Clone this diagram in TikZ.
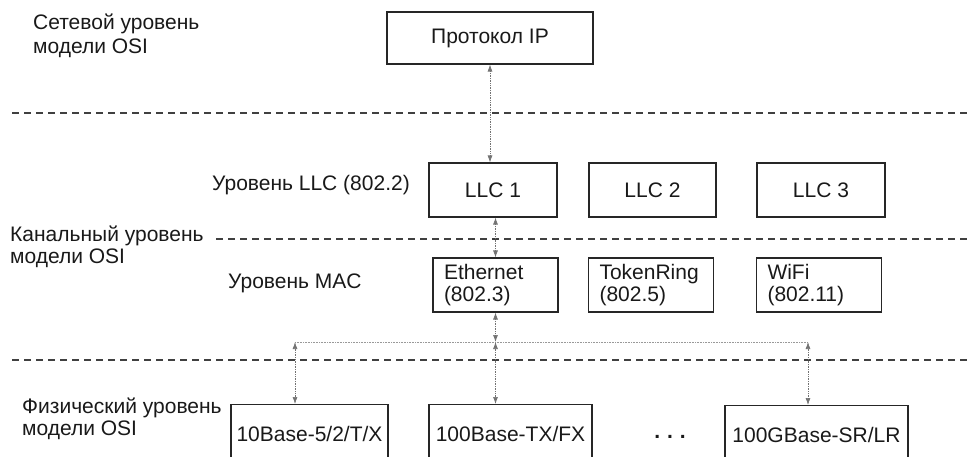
\documentclass[tikz,border=0pt]{standalone}
\usepackage{fontspec}
\setmainfont{Liberation Sans}
\usetikzlibrary{arrows.meta}
\begin{document}
\begin{tikzpicture}[x=1pt,y=-1pt,
  box/.style={draw=black!85, line width=1.1pt, inner sep=0pt, text=black!90, font=\fontsize{21}{22}\selectfont},
  mac/.style={box, minimum height=54pt, text width=103pt, inner xsep=11pt, align=left},
  lbl/.style={anchor=base west, inner sep=0pt, font=\fontsize{21}{23}\selectfont, text=black!90},
  sep/.style={draw=black!75, line width=1.2pt, dash pattern=on 7pt off 5pt},
  link/.style={draw=black!55, line width=0.7pt, densely dotted, {Latex[length=7pt,width=5pt]}-{Latex[length=7pt,width=5pt]}},
  bus/.style={draw=black!40, line width=0.6pt, densely dotted}]
\useasboundingbox (0,0) rectangle (969,456);
\clip (0,0) rectangle (969,456);
% level separators
\draw[sep] (12,113) -- (969,113);
\draw[sep] (216,239) -- (969,239);
\draw[sep] (12,360) -- (969,360);
% labels
\node[lbl] (netA) at (33,29) {Сетевой уровень};
\node[lbl] (netB) at (33,53) {модели OSI};
\node[lbl] (llcl) at (212,190) {Уровень LLC (802.2)};
\node[lbl] (dlA) at (10,241) {Канальный уровень};
\node[lbl] (dlB) at (10,263) {модели OSI};
\node[lbl] (macl) at (228,288) {Уровень MAC};
\node[lbl] (phA) at (22,413) {Физический уровень};
\node[lbl] (phB) at (22,435) {модели OSI};
% boxes
\node[box, minimum width=206pt, minimum height=52pt] (ip) at (490,38) {Протокол IP};
\node[box, minimum width=128pt, minimum height=54pt] (llc1) at (493,190) {LLC 1};
\node[box, minimum width=127pt, minimum height=54pt] (llc2) at (652.5,190) {LLC 2};
\node[box, minimum width=128pt, minimum height=54pt] (llc3) at (821,190) {LLC 3};
\node[mac] (eth) at (495.5,285) {Ethernet\\(802.3)};
\node[mac] (tr) at (651,285) {TokenRing\\(802.5)};
\node[mac] (wifi) at (819,285) {WiFi\\(802.11)};
\node[box, minimum width=157pt, minimum height=58pt, anchor=north] (b10) at (309.5,404) {10Base-5/2/T/X};
\node[box, minimum width=163pt, minimum height=58pt, anchor=north] (b100) at (510.5,404) {100Base-TX/FX};
\node[box, minimum width=183pt, minimum height=58pt, anchor=north] (b100g) at (816.5,405) {100GBase-SR/LR};
\node[lbl, anchor=base] (dots) at (670,438) {\textbf{.\,\,.\,\,.}};
% connectors
\coordinate (bL) at (295,342);
\coordinate (bR) at (808,342);
\coordinate (bM) at (eth.south |- bL);
\draw[bus] (bL) -- (bR);
\draw[link] (ip.south) -- (ip.south |- llc1.north);
\draw[link] (eth.north |- llc1.south) -- (eth.north);
\draw[link] (eth.south) -- (bM);
\draw[link] (bM) -- (bM |- b100.north);
\draw[link] (bL) -- (bL |- b10.north);
\draw[link] (bR) -- (bR |- b100g.north);
\end{tikzpicture}
\end{document}
